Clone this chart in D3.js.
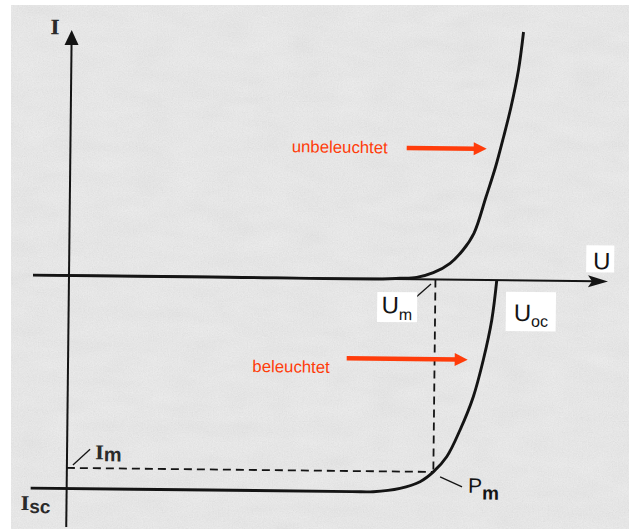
<!DOCTYPE html>
<html>
<head>
<meta charset="utf-8">
<script src="https://cdn.jsdelivr.net/npm/d3@7"></script>
<style>
  html, body { margin: 0; padding: 0; background: #ffffff; }
  svg { display: block; }
</style>
</head>
<body>
<svg id="chart" width="629" height="529"></svg>
<script>
// Characteristic points of the solar cell
const U_oc = 0.600;   // open-circuit voltage
const U_m = 0.514;    // voltage at maximum power point
const I_m = -2.71;    // current at maximum power point
const I_sc = -3.0;    // short-circuit current

// Extent of the drawn axes
const U_axisRange = [-0.0505, 0.756];
const I_axisRange = [-3.542, 3.458];

// Dark characteristic (unbeleuchtet)
const darkU = [-0.0505, 0.20, 0.44, 0.4642, 0.4877, 0.5109, 0.5342, 0.5522, 0.5674, 0.5836, 0.5965, 0.6073, 0.6173, 0.6272, 0.6337];
const darkI = [0, 0, 0, 0.012, 0.028, 0.096, 0.231, 0.420, 0.661, 1.170, 1.594, 2.018, 2.442, 2.964, 3.500];

// Illuminated characteristic (beleuchtet)
const litU = [-0.0505, 0.20, 0.40, 0.430, 0.4675, 0.4955, U_m, 0.5325, 0.5508, 0.5689, 0.5823, 0.5936, U_oc];
const litI = [I_sc, I_sc, I_sc, -2.998, -2.946, -2.85, I_m, -2.494, -2.115, -1.644, -1.126, -0.561, 0];

// Label texts
const axisNames = { current: "I", voltage: "U" };
const curveNames = { dark: "unbeleuchtet", lit: "beleuchtet" };

const W = 629, H = 529;
const svg = d3.select("#chart");
const defs = svg.append("defs");

// Paper grain
const grain = defs.append("filter").attr("id", "grain")
  .attr("x", 0).attr("y", 0).attr("width", "100%").attr("height", "100%");
grain.append("feTurbulence").attr("type", "fractalNoise")
  .attr("baseFrequency", "0.8").attr("numOctaves", 3).attr("seed", 11);
grain.append("feColorMatrix").attr("type", "matrix")
  .attr("values", "0.33 0.33 0.33 0 0  0.33 0.33 0.33 0 0  0.33 0.33 0.33 0 0  0 0 0 0 1");

const mottle = defs.append("filter").attr("id", "mottle")
  .attr("x", 0).attr("y", 0).attr("width", "100%").attr("height", "100%");
mottle.append("feTurbulence").attr("type", "fractalNoise")
  .attr("baseFrequency", "0.025 0.06").attr("numOctaves", 2).attr("seed", 3);
mottle.append("feColorMatrix").attr("type", "matrix")
  .attr("values", "0.33 0.33 0.33 0 0  0.33 0.33 0.33 0 0  0.33 0.33 0.33 0 0  0 0 0 0 1");

// Page and paper
svg.append("rect").attr("width", W).attr("height", H).attr("fill", "#ffffff");
const paper = svg.append("g").attr("transform", "translate(11,5)");
paper.append("rect").attr("width", W - 11).attr("height", H - 5).attr("fill", "#f3f3f3");
paper.append("rect").attr("width", W - 11).attr("height", H - 5)
  .attr("filter", "url(#grain)").attr("opacity", 0.16);
paper.append("rect").attr("width", W - 11).attr("height", H - 5)
  .attr("filter", "url(#mottle)").attr("opacity", 0.07);

// Scales: origin at the axis crossing
const x = d3.scaleLinear().domain([0, U_oc]).range([0, 427.8]);
const y = d3.scaleLinear().domain([0, I_sc]).range([0, 213]);

const ink = "#141414";
const red = "#ff3c0a";

const g = svg.append("g").attr("transform", "translate(69,275.5) rotate(0.63)");

// Axes
const uTip = x(U_axisRange[1]);
g.append("line")
  .attr("x1", x(U_axisRange[0])).attr("y1", y(0))
  .attr("x2", uTip - 12).attr("y2", y(0))
  .attr("stroke", ink).attr("stroke-width", 2);
g.append("path")
  .attr("d", `M${uTip},${y(0)} L${uTip - 20},${y(0) - 6} L${uTip - 16},${y(0)} L${uTip - 20},${y(0) + 6} Z`)
  .attr("fill", ink);

const iTip = y(I_axisRange[1]);
g.append("line")
  .attr("x1", x(0)).attr("y1", y(I_axisRange[0]))
  .attr("x2", x(0)).attr("y2", iTip + 10)
  .attr("stroke", ink).attr("stroke-width", 2);
g.append("path")
  .attr("d", `M${x(0)},${iTip} L${x(0) - 7},${iTip + 15} L${x(0) + 7},${iTip + 15} Z`)
  .attr("fill", ink);

// Maximum power point guides
g.append("line")
  .attr("x1", x(U_m)).attr("y1", y(0))
  .attr("x2", x(U_m)).attr("y2", y(I_m))
  .attr("stroke", ink).attr("stroke-width", 1.8).attr("stroke-dasharray", "8,5");
g.append("line")
  .attr("x1", x(0)).attr("y1", y(I_m))
  .attr("x2", x(U_m)).attr("y2", y(I_m))
  .attr("stroke", ink).attr("stroke-width", 1.8).attr("stroke-dasharray", "8,5");

// Characteristic curves
const line = d3.line()
  .x(d => x(d[0])).y(d => y(d[1]))
  .curve(d3.curveCatmullRom.alpha(0.5));

g.append("path")
  .datum(d3.zip(darkU, darkI))
  .attr("d", line)
  .attr("fill", "none").attr("stroke", ink).attr("stroke-width", 2.9)
  .attr("stroke-linejoin", "round");

g.append("path")
  .datum(d3.zip(litU, litI))
  .attr("d", line)
  .attr("fill", "none").attr("stroke", ink).attr("stroke-width", 2.9)
  .attr("stroke-linejoin", "round");

// Axis names
g.append("text")
  .attr("x", x(0) - 12).attr("y", iTip + 4.5)
  .attr("text-anchor", "end")
  .attr("font-family", "DejaVu Serif, serif").attr("font-size", 20).attr("font-weight", "bold")
  .attr("fill", "#2a2a2a").text(axisNames.current);

g.append("rect")
  .attr("x", uTip - 22).attr("y", y(0) - 36).attr("width", 28).attr("height", 27)
  .attr("fill", "#ffffff");
g.append("text")
  .attr("x", uTip - 15).attr("y", y(0) - 12)
  .attr("font-family", "Liberation Sans, Arial, sans-serif").attr("font-size", 24)
  .attr("fill", ink).text(axisNames.voltage);

// U_m label with leader
g.append("line")
  .attr("x1", x(U_m) - 19).attr("y1", 17.7)
  .attr("x2", x(U_m) - 4.4).attr("y2", 4.5)
  .attr("stroke", ink).attr("stroke-width", 1.3);
g.append("rect")
  .attr("x", x(U_m) - 58).attr("y", 13).attr("width", 40).attr("height", 30)
  .attr("fill", "#ffffff");
const umText = g.append("text")
  .attr("x", x(U_m) - 53.5).attr("y", 34.4)
  .attr("font-family", "Liberation Sans, Arial, sans-serif").attr("fill", ink);
umText.append("tspan").attr("font-size", 24).text("U");
umText.append("tspan").attr("font-size", 16).attr("dy", 6.5).text("m");

// U_oc label
g.append("rect")
  .attr("x", x(U_oc) + 9.4).attr("y", 11.4).attr("width", 50).attr("height", 39.3)
  .attr("fill", "#ffffff");
const uocText = g.append("text")
  .attr("x", x(U_oc) + 17.5).attr("y", 40.6)
  .attr("font-family", "Liberation Sans, Arial, sans-serif").attr("fill", ink);
uocText.append("tspan").attr("font-size", 24).text("U");
uocText.append("tspan").attr("font-size", 16).attr("dy", 5.5).text("oc");

// P_m label with leader
g.append("line")
  .attr("x1", x(U_m) + 6.8).attr("y1", y(I_m) + 4.9)
  .attr("x2", x(U_m) + 28.9).attr("y2", y(I_m) + 14.7)
  .attr("stroke", ink).attr("stroke-width", 1.3);
const pmText = g.append("text")
  .attr("x", x(U_m) + 35).attr("y", y(I_m) + 20.5)
  .attr("font-family", "Liberation Sans, Arial, sans-serif").attr("fill", ink);
pmText.append("tspan").attr("font-size", 21).text("P");
pmText.append("tspan").attr("font-size", 19).attr("font-weight", "bold").attr("dy", 6.5).text("m");

// I_m label with leader
g.append("line")
  .attr("x1", x(0) + 6).attr("y1", y(I_m) - 3)
  .attr("x2", x(0) + 23).attr("y2", y(I_m) - 19)
  .attr("stroke", ink).attr("stroke-width", 1.3);
const imText = g.append("text")
  .attr("x", x(0) + 28).attr("y", y(I_m) - 9)
  .attr("fill", "#2a2a2a");
imText.append("tspan").attr("font-family", "DejaVu Serif, serif").attr("font-size", 19)
  .attr("font-weight", "bold").text("I");
imText.append("tspan").attr("font-family", "Liberation Sans, Arial, sans-serif")
  .attr("font-size", 20).attr("font-weight", "bold").attr("dy", 2).text("m");

// I_sc label
const iscText = g.append("text")
  .attr("x", x(0) - 46).attr("y", y(I_sc) + 22)
  .attr("fill", "#2a2a2a");
iscText.append("tspan").attr("font-family", "DejaVu Serif, serif").attr("font-size", 19)
  .attr("font-weight", "bold").text("I");
iscText.append("tspan").attr("font-family", "Liberation Sans, Arial, sans-serif")
  .attr("font-size", 19).attr("font-weight", "bold").attr("dy", 3).text("sc");

// Curve annotations with red arrows
function redArrow(x0, x1, yy) {
  g.append("line")
    .attr("x1", x0).attr("y1", yy).attr("x2", x1 - 10).attr("y2", yy)
    .attr("stroke", red).attr("stroke-width", 4.5);
  g.append("path")
    .attr("d", `M${x1},${yy} L${x1 - 13},${yy - 6.5} L${x1 - 13},${yy + 6.5} Z`)
    .attr("fill", red);
}

g.append("text")
  .attr("x", 221.3).attr("y", -125.7)
  .attr("font-family", "Liberation Sans, Arial, sans-serif").attr("font-size", 16.8)
  .attr("fill", red).text(curveNames.dark);
redArrow(336.3, 416.3, -131.3);

g.append("text")
  .attr("x", 184.4).attr("y", 94.5)
  .attr("font-family", "Liberation Sans, Arial, sans-serif").attr("font-size", 16.8)
  .attr("fill", red).text(curveNames.lit);
redArrow(278.6, 399.6, 79.8);
</script>
</body>
</html>
